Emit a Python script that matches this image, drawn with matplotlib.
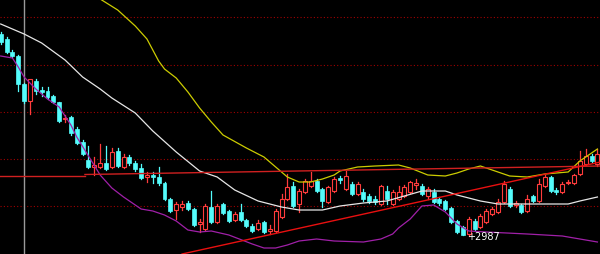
import matplotlib
matplotlib.use("Agg")
import matplotlib.pyplot as plt
from matplotlib.patches import Rectangle

# daily candles, index 0..102
opens = [3391, 3381, 3355, 3347, 3291, 3257, 3297, 3279, 3277, 3267,
         3255, 3221, 3225, 3201, 3175, 3139, 3125, 3125, 3133, 3125,
         3157, 3125, 3145, 3133, 3123, 3105, 3109, 3105, 3093, 3061,
         3039, 3045, 3053, 3041, 3011, 3001, 3045, 3015, 3051, 3037,
         3019, 3035, 3019, 3007, 3001, 3015, 2997, 2997, 3025, 3061,
         3087, 3051, 3075, 3087, 3097, 3081, 3055, 3077, 3103, 3081,
         3091, 3071, 3075, 3067, 3061, 3051, 3077, 3051, 3061, 3067,
         3075, 3089, 3087, 3067, 3075, 3061, 3057, 3043, 3017, 3005,
         2991, 3017, 3005, 3015, 3031, 3035, 3055, 3081, 3049, 3049,
         3037, 3067, 3057, 3087, 3105, 3079, 3075, 3093, 3093, 3111,
         3131, 3147, 3131]
closes = [3375, 3355, 3347, 3291, 3257, 3301, 3277, 3275, 3265, 3255,
          3217, 3223, 3193, 3173, 3151, 3125, 3129, 3133, 3121, 3155,
          3127, 3145, 3133, 3121, 3103, 3109, 3105, 3093, 3061, 3037,
          3051, 3051, 3041, 3009, 3015, 3047, 3015, 3047, 3033, 3017,
          3031, 3019, 3007, 2997, 3013, 2995, 3001, 3037, 3061, 3085,
          3047, 3077, 3097, 3097, 3077, 3057, 3085, 3101, 3099, 3107,
          3071, 3091, 3061, 3057, 3055, 3087, 3061, 3075, 3075, 3085,
          3095, 3093, 3071, 3081, 3055, 3053, 3041, 3015, 2995, 2990,
          3021, 3001, 3027, 3037, 3041, 3055, 3091, 3047, 3053, 3035,
          3061, 3057, 3091, 3105, 3077, 3075, 3091, 3095, 3109, 3137,
          3147, 3137, 3151]
highs = [3395, 3385, 3359, 3349, 3293, 3301, 3301, 3285, 3285, 3269,
         3255, 3229, 3227, 3205, 3179, 3167, 3145, 3171, 3167, 3163,
         3163, 3151, 3149, 3137, 3131, 3115, 3115, 3125, 3095, 3063,
         3055, 3057, 3057, 3043, 3021, 3051, 3077, 3051, 3053, 3039,
         3035, 3051, 3021, 3011, 3019, 3017, 3009, 3041, 3071, 3111,
         3095, 3081, 3101, 3115, 3101, 3083, 3087, 3105, 3107, 3117,
         3095, 3095, 3081, 3071, 3067, 3089, 3087, 3079, 3087, 3089,
         3097, 3101, 3091, 3085, 3081, 3065, 3059, 3045, 3019, 3007,
         3025, 3021, 3031, 3041, 3045, 3061, 3097, 3085, 3057, 3051,
         3069, 3069, 3101, 3109, 3107, 3083, 3095, 3099, 3111, 3157,
         3161, 3151, 3161]
lows = [3371, 3353, 3345, 3277, 3253, 3231, 3271, 3267, 3261, 3253,
        3215, 3215, 3189, 3171, 3149, 3123, 3109, 3123, 3119, 3123,
        3125, 3123, 3129, 3117, 3101, 3095, 3093, 3089, 3059, 3035,
        3021, 3039, 3039, 3007, 2995, 2999, 3013, 3013, 3031, 3015,
        3017, 3017, 3005, 2995, 2999, 2993, 2991, 2995, 3023, 3059,
        3045, 3035, 3073, 3085, 3075, 3045, 3053, 3075, 3093, 3079,
        3069, 3069, 3057, 3053, 3051, 3049, 3051, 3049, 3059, 3065,
        3073, 3081, 3069, 3061, 3053, 3049, 3039, 3013, 2993, 2989,
        2987, 2999, 3003, 3013, 3029, 3033, 3053, 3045, 3045, 3033,
        3035, 3055, 3055, 3085, 3075, 3071, 3073, 3091, 3091, 3109,
        3129, 3135, 3127]

# bollinger-style lines (candle index, value)
mid_idx = [0, 4, 7, 11, 14, 17, 19, 23, 26, 30, 34, 37, 40, 44, 48, 51, 55,
           58, 62, 66, 69, 72, 76, 78, 82, 85, 97, 99, 102]
mid_val = [3411, 3391, 3373, 3339, 3305, 3281, 3263, 3233, 3197, 3155, 3117,
           3105, 3079, 3057, 3045, 3039, 3039, 3047, 3053, 3057, 3067, 3077,
           3077, 3069, 3057, 3051, 3051, 3057, 3065]
up_idx = [12, 17, 20, 23, 25, 27, 28, 30, 32, 34, 36, 38, 42, 45, 47, 49, 51,
          53, 55, 57, 58, 61, 64, 68, 70, 73, 76, 78, 80, 82, 84, 87, 90, 93,
          97, 99, 102]
up_val = [3497, 3461, 3439, 3407, 3381, 3337, 3321, 3303, 3275, 3243, 3215,
          3189, 3163, 3145, 3125, 3105, 3095, 3095, 3101, 3109, 3117, 3125,
          3127, 3129, 3123, 3109, 3107, 3113, 3121, 3127, 3119, 3107, 3105,
          3111, 3115, 3137, 3161]
low_idx = [0, 2, 3, 4, 6, 8, 10, 12, 13, 15, 17, 19, 21, 24, 26, 28, 30, 32,
           34, 36, 39, 43, 45, 47, 49, 51, 54, 57, 62, 65, 67, 68, 70, 72, 74,
           76, 78, 80, 83, 90, 96, 99, 102]
low_val = [3347, 3343, 3325, 3305, 3281, 3261, 3245, 3209, 3185, 3147, 3109,
           3083, 3065, 3041, 3037, 3029, 3017, 2999, 2995, 2997, 2989, 2971,
           2963, 2963, 2969, 2977, 2981, 2977, 2975, 2981, 2991, 3003, 3021,
           3047, 3049, 3035, 3011, 2997, 2995, 2991, 2987, 2981, 2975]

# hand-drawn lines and grid
flat1_x = [-0.2, 14.4]
flat1_y = [3108, 3108]
flat2_x = [14.4, 102.5]
flat2_y = [3110, 3127]
trend_x = [31.0, 102.5]
trend_y = [2951, 3135]
grid_levels = [3425, 3330, 3236, 3141, 3047]
marker_idx = 4
low_label = "2987"

UP = "#ff3c3c"
DOWN = "#54fcfc"

fig = plt.figure(figsize=(6, 2.55), dpi=100)
fig.patch.set_facecolor("black")
ax = fig.add_axes([0, 0, 1, 1])
ax.set_facecolor("black")
ax.set_xlim(-0.12, 102.44)
ax.set_ylim(2951, 3461)
ax.set_xticks([])
ax.set_yticks([])
for s in ax.spines.values():
    s.set_visible(False)

for g in grid_levels:
    ax.axhline(g, color="#a00000", lw=0.8, ls=(0, (1, 2)), zorder=1)
ax.axvline(marker_idx, color="#9a9a9a", lw=1.0, zorder=1)

w = 0.68
for i in range(len(opens)):
    o, c, h, l = opens[i], closes[i], highs[i], lows[i]
    if c >= o:
        ax.plot([i, i], [max(o, c), h], color=UP, lw=0.9, zorder=3)
        ax.plot([i, i], [l, min(o, c)], color=UP, lw=0.9, zorder=3)
        ax.add_patch(Rectangle((i - w / 2, o), w, max(c - o, 0.8), facecolor="black",
                               edgecolor=UP, lw=0.8, zorder=4))
    else:
        ax.plot([i, i], [l, h], color=DOWN, lw=0.9, zorder=3)
        ax.add_patch(Rectangle((i - w / 2, c), w, o - c, facecolor=DOWN,
                               edgecolor=DOWN, lw=0.5, zorder=4))

ax.plot(mid_idx, mid_val, color="#e6e6e6", lw=0.9, zorder=5)
ax.plot(up_idx, up_val, color="#cccc00", lw=0.9, zorder=5)
ax.plot(low_idx, low_val, color="#a020a8", lw=0.9, zorder=5)

ax.plot(flat1_x, flat1_y, color="#d02020", lw=1.0, zorder=6)
ax.plot(flat2_x, flat2_y, color="#d02020", lw=1.0, zorder=6)
ax.plot(trend_x, trend_y, color="#e81010", lw=1.0, zorder=6)

low_i = lows.index(min(lows))
ax.text(low_i - 0.35, min(lows), "+" + low_label, color="white", fontsize=7,
        ha="left", va="center", zorder=7)

fig.savefig("out.png", dpi=100, facecolor="black")
